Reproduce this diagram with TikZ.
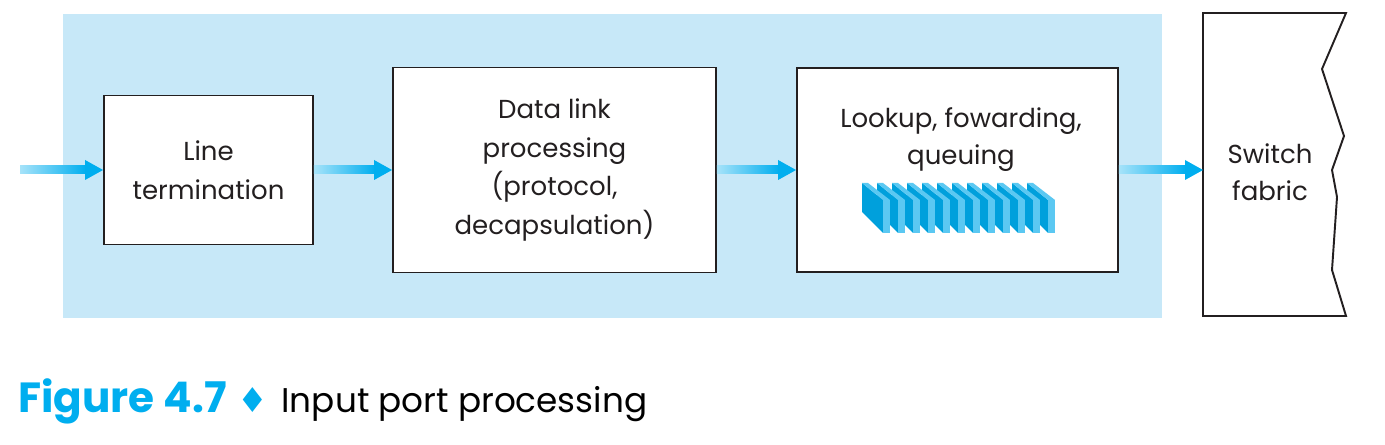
\documentclass[tikz,border=0pt]{standalone}
\usepackage{fontspec}
\setmainfont{Poppins}
\newfontfamily\simbolo{DejaVu Sans}
\usetikzlibrary{positioning, calc}

\definecolor{fundo}{HTML}{C7E8F8}
\definecolor{setacor}{HTML}{00AEEF}
\definecolor{contorno}{HTML}{231F20}
\definecolor{filaescura}{HTML}{00A0DC}
\definecolor{filaclara}{HTML}{5BC8F2}

\tikzset{
  caixa/.style={draw=contorno, line width=1.1pt, fill=white, text=contorno, align=center,
    font=\fontsize{14.8}{22}\selectfont, inner sep=0pt},
  rotulo/.style={align=center, text=contorno, font=\fontsize{14.8}{21.2}\selectfont}
}

\newcommand{\setaazul}[2]{%
  \fill[left color=setacor!35, right color=setacor] ($(#1)+(0,-4)$) rectangle ($(#2)+(-17,4)$);
  \fill[setacor] ($(#2)+(-18,-10)$) -- (#2) -- ($(#2)+(-18,10)$) -- cycle;
}

\begin{document}
\begin{tikzpicture}[x=0.02cm, y=-0.02cm]
\useasboundingbox (0,0) rectangle (1385,445);

% LAYER 1: Fundo da porta de entrada
\fill[fundo] (63,14) rectangle (1162,318);

% LAYER 2: Blocos de processamento
\node[caixa, minimum width=4.18cm, minimum height=2.98cm] (linha) at (208.5,170) {Line\\termination};
\node[caixa, minimum width=6.46cm, minimum height=4.1cm] (enlace) at (554.5,170) {Data link\\processing\\(protocol,\\decapsulation)};
\node[caixa, minimum width=6.42cm, minimum height=4.08cm] (busca) at (957.5,170) {};
\node[rotulo, anchor=north] (buscatxt) at (961,101) {Lookup, fowarding,\\queuing};

% LAYER 3: Fila de pacotes
\foreach \i in {11,...,0} {
  \fill[filaescura] ({862+15*\i},183) -- ({883+15*\i},200) -- ({883+15*\i},233) -- ({862+15*\i},212) -- cycle;
  \fill[filaclara] ({862+15*\i},183) -- ({868+15*\i},183) -- ({890+15*\i},200) -- ({883+15*\i},200) -- cycle;
  \fill[filaclara] ({883+15*\i},200) rectangle ({890+15*\i},233);
}

% LAYER 4: Switch fabric com borda quebrada
\draw[draw=contorno, line width=1.1pt, fill=white] (1203,13) -- (1346,13) -- (1322,69) -- (1344,136)
  -- (1332,170) -- (1337,197) -- (1332,270) -- (1346,316) -- (1203,316) -- cycle;
\node[rotulo] (malha) at (1270,172) {Switch\\fabric};
\coordinate (entrada) at (20,170);
\coordinate (malhaoeste) at (1203,170);

% LAYER 5: Setas
\setaazul{entrada}{linha.west}
\setaazul{linha.east}{enlace.west}
\setaazul{enlace.east}{busca.west}
\setaazul{busca.east}{malhaoeste}

% LAYER 6: Legenda
\node[anchor=base west, inner sep=0pt, font=\fontsize{19.5}{24}\selectfont] (legenda) at (18,413)
  {\textcolor{setacor}{\fontsize{24}{28}\selectfont\bfseries Figure 4.7}\hspace{0.3em}{\simbolo\textcolor{setacor}{♦}}\hspace{0.4em}Input port processing};
\end{tikzpicture}
\end{document}
